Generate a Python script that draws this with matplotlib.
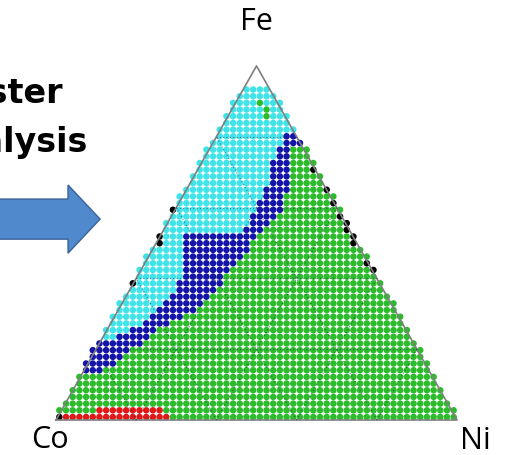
import matplotlib.pyplot as plt
from matplotlib.patches import Polygon
import numpy as np

# ternary frame: Co at (0, 0), Ni at (1, 0), Fe at the apex
apex_h = 0.883
step = 1 / 60
n_rows = 50
n_cols = 60

# per-row class boundaries along the base (fraction of base width)
# x < cyan_end -> cyan, x < blue_end -> blue, otherwise green
cyan_end = [-1] * 12 + [
    0.152, 0.185, 0.209, 0.234, 0.252, 0.267, 0.279, 0.292, 0.304, 0.314,
    0.314, 0.314, 0.317, 0.317, 0.319, 0.322, 0.466, 0.479, 0.491, 0.499,
    0.506, 0.516, 0.521, 0.526, 0.531, 0.536, 0.541, 0.546, 0.551, 0.559,
    0.566] + [1.1] * 7
blue_end = [-1] * 7 + [
    0.110, 0.147, 0.165, 0.180, 0.217, 0.234, 0.254, 0.284, 0.314, 0.347,
    0.364, 0.379, 0.397, 0.409, 0.424, 0.439, 0.454, 0.466, 0.479, 0.489,
    0.501, 0.514, 0.534, 0.551, 0.559, 0.566, 0.571, 0.576, 0.581, 0.584,
    0.584, 0.579, 0.584, 0.591] + [1.1] * 9

# red cluster along the Co-Ni edge: row -> (x from, x to)
red_rows = {0: (0.015, 0.284), 1: (0.092, 0.272)}

# outliers: edge points (black) and isolated green points in the Fe corner
black_left_rows = [0, 20, 26, 27, 31]
black_right_rows = [22, 23, 26, 27, 28, 29, 30, 32, 34, 37]
green_spots = [(47, 30), (46, 31), (45, 31)]

colors = {"cyan": "#40e4e8", "blue": "#1414aa", "green": "#2bbb2b",
          "red": "#e01818", "black": "#000000"}

fig = plt.figure(figsize=(5.13, 4.56), dpi=100)
ax = fig.add_axes([0, 0, 1, 1])
ax.set_xlim(-56 / 401, 457 / 401)
ax.set_ylim(-35 / 401, 421 / 401)
ax.axis("off")

xs, ys, cs = [], [], []
tol = 0.45 * step
for k in range(n_rows):
    y = step * (k + 0.45)
    half = 0.5 * (1 - y / apex_h)
    row = [j for j in range(n_cols)
           if abs(step * (j + 0.5) - 0.5) <= half + tol]
    for j in row:
        x = step * (j + 0.5)
        if x < cyan_end[k]:
            c = "cyan"
        elif x < blue_end[k]:
            c = "blue"
        else:
            c = "green"
        if k in red_rows and red_rows[k][0] <= x <= red_rows[k][1]:
            c = "red"
        if (k, j) in green_spots:
            c = "green"
        if (j == row[0] and k in black_left_rows) or \
                (j == row[-1] and k in black_right_rows):
            c = "black"
        xs.append(x)
        ys.append(y)
        cs.append(colors[c])

ax.scatter(xs, ys, s=22, c=cs, linewidths=0, zorder=2)

# triangle outline
tri = np.array([[0, 0], [1, 0], [0.5, apex_h], [0, 0]])
ax.plot(tri[:, 0], tri[:, 1], color="#7f7f7f", lw=1.2, zorder=3)

# 20 % grid lines
for f in [0.2, 0.4, 0.6, 0.8]:
    kw = dict(color="#202050", lw=0.8, ls=(0, (1, 2)), alpha=0.55, zorder=3)
    ax.plot([f / 2, 1 - f / 2], [f * apex_h, f * apex_h], **kw)
    ax.plot([f, 0.5 + f / 2], [0, (1 - f) * apex_h], **kw)
    ax.plot([f, f / 2], [0, f * apex_h], **kw)

font = "Open Sans"
ax.text(0.501, 0.995, "Fe", fontsize=22, family=font, ha="center", va="center")
ax.text(-0.015, -0.047, "Co", fontsize=22, family=font, ha="center", va="center")
ax.text(1.045, -0.05, "Ni", fontsize=22, family=font, ha="center", va="center")

ax.text(0.017, 0.793, "Cluster", fontsize=24, family="DejaVu Sans",
        weight="bold", ha="right", va="baseline")
ax.text(0.080, 0.671, "Analysis", fontsize=24, family="DejaVu Sans",
        weight="bold", ha="right", va="baseline")

# arrow pointing at the diagram
cy, bh, hh = 0.501, 0.05, 0.085
arrow = Polygon([[-0.2, cy + bh], [0.030, cy + bh], [0.030, cy + hh],
                 [0.110, cy], [0.030, cy - hh], [0.030, cy - bh],
                 [-0.2, cy - bh]], closed=True, facecolor="#5089cc",
                edgecolor="#3a629a", lw=1.0, zorder=4)
ax.add_patch(arrow)

fig.savefig("out.png", dpi=100)
